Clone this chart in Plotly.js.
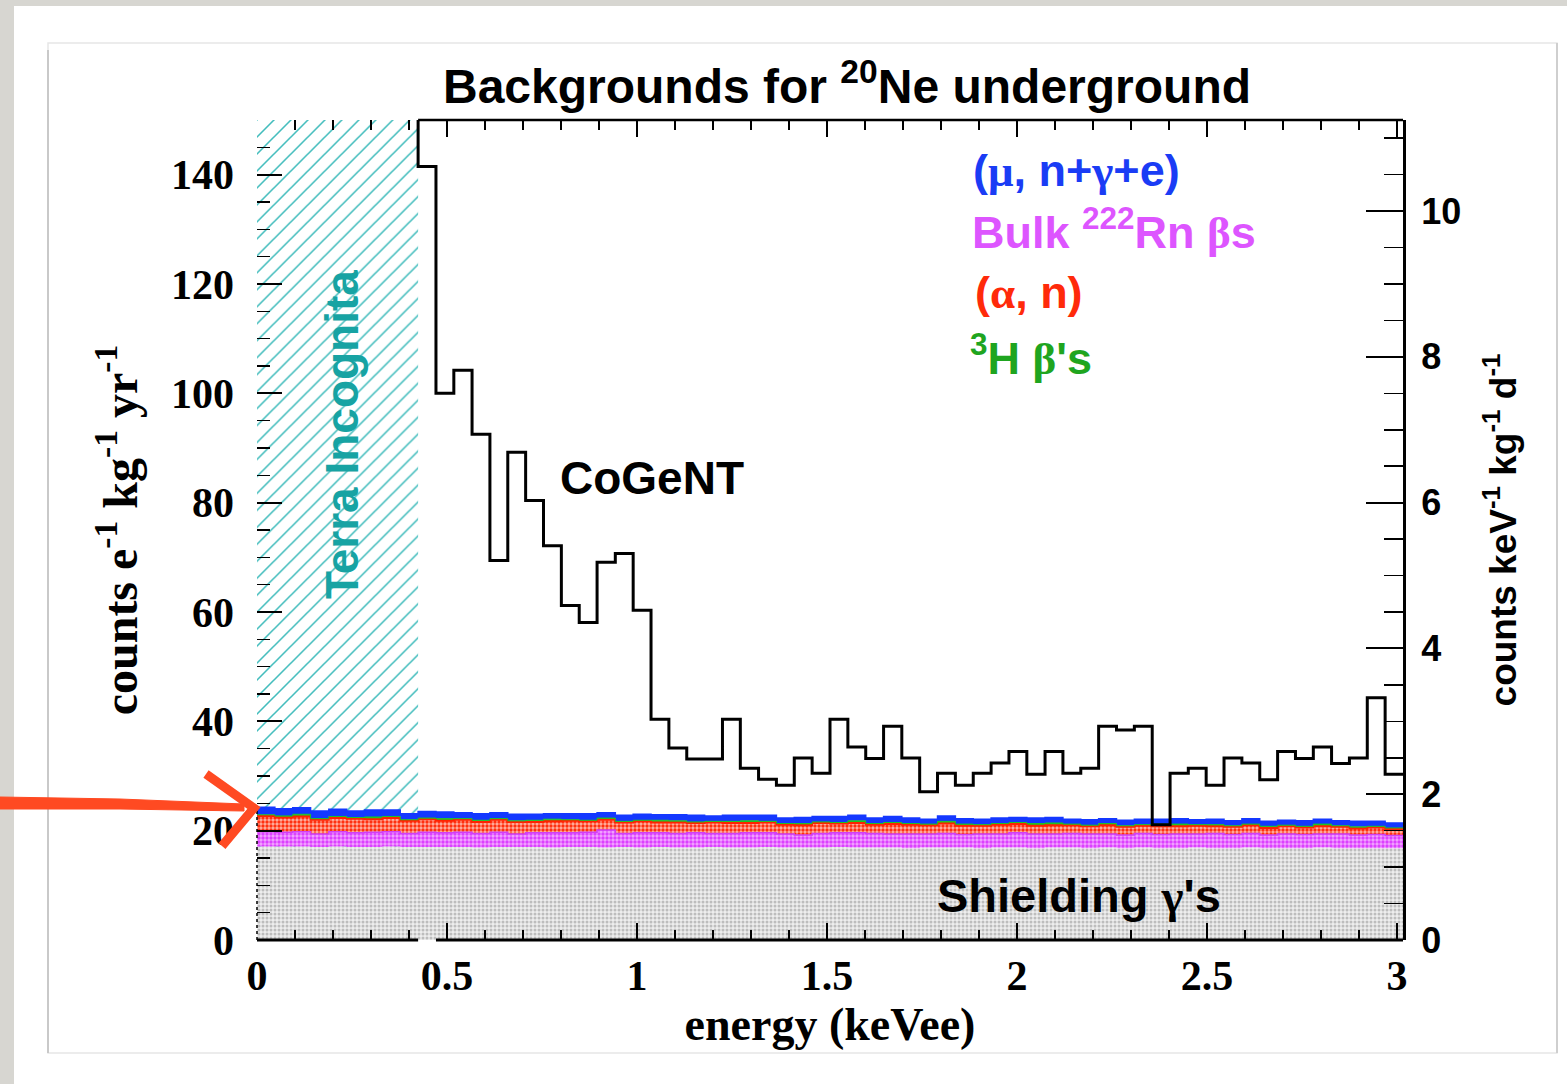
<!DOCTYPE html>
<html>
<head>
<meta charset="utf-8">
<script src="https://cdn.plot.ly/plotly-3.0.1.min.js"></script>
<style>html,body{margin:0;padding:0;background:#d7d6d1;}#chart{width:1567px;height:1084px;}</style>
</head>
<body>
<div id="chart"></div>
<script>
// ---------------- data ----------------
// energy bin edges (keVee)
const binEdges = [0.000,0.047,0.094,0.141,0.189,0.236,0.283,0.330,0.377,0.424,
  0.471,0.518,0.566,0.613,0.660,0.707,0.754,0.801,0.848,0.895,
  0.943,0.990,1.037,1.084,1.131,1.178,1.225,1.272,1.320,1.367,
  1.414,1.461,1.508,1.555,1.602,1.649,1.697,1.744,1.791,1.838,
  1.885,1.932,1.979,2.026,2.074,2.121,2.168,2.215,2.262,2.309,
  2.356,2.403,2.451,2.498,2.545,2.592,2.639,2.686,2.733,2.780,
  2.828,2.875,2.922,2.969,3.016];

// CoGeNT spectrum, bins starting at binEdges[9] (counts e^-1 kg^-1 yr^-1)
const cogentStartBin = 9;
const cogentBelowThreshold = 170; // off-scale value just below the first bin
const cogentCounts = [141.5,100.0,104.2,92.5,69.4,89.2,80.4,72.1,61.2,58.1,
  69.1,70.7,60.3,40.4,35.1,33.1,33.1,40.4,31.4,29.4,
  28.3,33.3,30.5,40.4,35.3,33.2,39.1,33.3,27.1,30.5,
  28.3,30.5,32.4,34.5,30.3,34.5,30.5,31.4,39.1,38.4,
  39.1,21.1,30.5,31.4,28.3,33.3,32.4,29.3,34.5,33.2,
  35.3,32.3,33.3,44.3,30.3];

// stacked backgrounds (per bin, counts e^-1 kg^-1 yr^-1)
const shieldingGammas = [17.1,17.1,17.1,17.0,17.1,17.0,17.0,17.1,17.0,17.0,
  17.0,17.0,16.9,17.0,17.0,17.0,16.9,17.0,17.0,16.9,
  17.0,16.9,17.0,16.9,16.9,17.0,16.9,16.9,17.0,16.9,
  16.9,16.9,17.0,16.9,16.9,16.9,16.8,16.9,16.9,16.9,
  16.8,16.9,16.9,16.8,16.9,16.9,16.8,16.9,16.8,16.9,
  16.8,16.8,16.9,16.8,16.8,16.9,16.8,16.8,16.8,16.9,
  16.8,16.8,16.8,16.8];
const bulkRn222 = [2.7,2.6,2.7,2.4,2.7,2.6,2.7,2.7,2.5,2.7,
  2.6,2.7,2.6,2.7,2.4,2.6,2.7,2.6,2.7,3.2,
  2.5,2.7,2.6,2.6,2.7,2.5,2.6,2.7,2.6,2.5,
  2.3,2.6,2.6,2.7,2.6,2.5,2.6,2.5,2.6,2.4,
  2.6,2.5,2.7,2.6,2.5,2.6,2.6,2.5,2.4,2.6,
  2.5,2.6,2.5,2.7,2.5,2.6,2.4,2.6,2.5,2.5,
  2.6,2.4,2.5,2.3];
const alphaN = [2.9,2.7,2.8,2.6,2.5,2.6,2.4,2.5,2.3,2.4,
  2.2,2.3,2.1,2.3,2.2,2.0,2.1,2.2,2.0,1.9,
  2.0,2.1,1.9,2.0,1.8,2.0,1.9,1.8,1.9,1.7,
  1.8,1.9,1.7,1.8,1.6,1.8,1.7,1.6,1.8,1.6,
  1.5,1.7,1.6,1.5,1.6,1.5,1.4,1.6,1.5,1.4,
  1.5,1.4,1.5,1.3,1.4,1.5,1.3,1.4,1.3,1.4,
  1.3,1.2,1.3,1.2];
const tritiumBeta = [0.2,0.3,0.4,0.2,0.3,0.2,0.4,0.3,0.2,0.2,
  0.4,0.2,0.3,0.2,0.2,0.3,0.4,0.2,0.2,0.3,
  0.2,0.2,0.4,0.3,0.2,0.2,0.3,0.4,0.2,0.2,
  0.3,0.2,0.2,0.4,0.2,0.3,0.2,0.2,0.4,0.3,
  0.2,0.2,0.3,0.4,0.4,0.2,0.2,0.3,0.2,0.2,
  0.4,0.4,0.2,0.3,0.2,0.2,0.3,0.2,0.2,0.4,
  0.2,0.3,0.2,0.2];
const muonInduced = [1.4,1.3,1.2,1.4,1.3,1.2,1.3,1.2,1.1,1.2,
  1.2,1.1,1.2,1.1,1.2,1.1,1.0,1.1,1.2,1.0,
  1.1,1.1,1.0,1.1,1.2,1.0,1.1,1.0,1.1,1.0,
  1.1,1.0,1.1,1.0,1.0,1.1,1.0,0.9,1.0,1.0,
  1.0,1.0,0.9,1.0,1.0,0.9,1.0,0.9,1.0,1.0,
  0.9,1.0,0.9,1.0,0.9,1.0,0.9,0.9,1.0,0.9,
  0.9,1.0,0.9,0.9];

// axis ranges (left: counts e^-1 kg^-1 yr^-1, right: counts keV^-1 kg^-1 d^-1)
const xRange = [0, 3.016];
const yLeftRange = [0, 150];
const yRightRange = [0, 11.25];
const xTickLabels = ['0','0.5','1','1.5','2','2.5','3'];
const xTickVals = [0,0.5,1,1.5,2,2.5,3];

// ---------------- build ----------------
const L=257, R=1403, T=120, B=940, W=R-L, H=B-T;
const px = x => (x-L)/W, py = y => (B-y)/H;

function cum(arrs){ const out=[]; let run=new Array(arrs[0].length).fill(0);
  arrs.forEach(a=>{ run=run.map((v,i)=>v+a[i]); out.push(run.slice()); }); return out; }
const comps = [shieldingGammas, bulkRn222, alphaN, tritiumBeta, muonInduced];
const cums = cum(comps);
const stepY = a => a.concat([a[a.length-1]]);

const SANS = 'Liberation Sans, Arial, sans-serif';
const SERIF = 'Liberation Serif, Times New Roman, serif';
const terraEnd = binEdges[cogentStartBin];

const traces = [];
// Terra Incognita hatched region
traces.push({x:[0,terraEnd,terraEnd,0,0], y:[yLeftRange[0],yLeftRange[0],yLeftRange[1],yLeftRange[1],yLeftRange[0]],
  type:'scatter', mode:'lines', fill:'toself', line:{width:0}, fillcolor:'rgba(255,255,255,1)',
  fillpattern:{shape:'/', fgcolor:'#40bcbc', bgcolor:'#ffffff', size:12, solidity:0.13},
  hoverinfo:'skip', showlegend:false});

const styles = [
  {line:'#cfcfcf', pat:{shape:'.', fgcolor:'#bdbdbd', bgcolor:'#eeeeee', size:4, solidity:0.45}, fill:'tozeroy', lw:0},
  {line:'#d040f5', pat:{shape:'.', fgcolor:'#dc40ff', bgcolor:'#f3a8ff', size:4, solidity:0.55}, fill:'tonexty', lw:1.5},
  {line:'#ff2200', pat:{shape:'.', fgcolor:'#ff3010', bgcolor:'#ffb4a4', size:4, solidity:0.55}, fill:'tonexty', lw:2},
  {line:'#1fc41f', pat:null, fc:'#1fc41f', fill:'tonexty', lw:1},
  {line:'#1438ff', pat:null, fc:'#1438ff', fill:'tonexty', lw:1.5}
];
cums.forEach((c,i)=>{
  const s=styles[i];
  const t={x:binEdges, y:stepY(c), type:'scatter', mode:'lines', line:{shape:'hv', color:s.line, width:s.lw},
    fill:s.fill, hoverinfo:'skip', showlegend:false};
  if(s.pat){ t.fillcolor=s.pat.bgcolor; t.fillpattern=s.pat; } else { t.fillcolor=s.fc; }
  traces.push(t);
});
// CoGeNT histogram
traces.push({x:binEdges.slice(cogentStartBin), y:[cogentBelowThreshold].concat(cogentCounts),
  type:'scatter', mode:'lines', line:{shape:'vh', color:'#000', width:3}, hoverinfo:'skip', showlegend:false, cliponaxis:true});
// right-axis carrier
traces.push({x:[], y:[], yaxis:'y2', type:'scatter', mode:'lines', showlegend:false});

const greek = g => `<span style="font-family:Liberation Serif">${g}</span>`;
const ann = (text, x, y, color, size, extra) => Object.assign({text, xref:'paper', yref:'paper', x:px(x), y:py(y),
  xanchor:'left', yanchor:'middle', showarrow:false, font:{family:SANS, size, color, weight:'bold'}}, extra||{});

const annotations = [
  ann('CoGeNT', 558, 478, '#000', 46),
  ann(`(${greek('μ')}, n+${greek('γ')}+e)`, 971, 170, '#1a3cf5', 45),
  ann(`Bulk <sup>222</sup>Rn ${greek('β')}s`, 970, 229, '#dd55ff', 45),
  ann(`(${greek('α')}, n)`, 973, 292, '#ff2a0a', 45),
  ann(`<sup>3</sup>H ${greek('β')}'s`, 968, 355, '#1fa51f', 45),
  ann(`Shielding ${greek('γ')}'s`, 935, 895, '#000', 47),
  ann('Terra Incognita', 342, 435, '#17a3a3', 46, {xanchor:'center', textangle:-90})
];

// hand-drawn style pointer arrow (decoration, pixel positions)
const arrowColor = '#ff4a22';
const shapes = [
  // outer white page and inner card frame
  {type:'rect', xref:'paper', yref:'paper', x0:px(14), x1:px(1567), y0:py(1084), y1:py(6), fillcolor:'#ffffff', line:{width:0}, layer:'below'},
  {type:'rect', xref:'paper', yref:'paper', x0:px(48), x1:px(1557), y0:py(1053), y1:py(43), fillcolor:'rgba(0,0,0,0)', line:{color:'#e6e6e6', width:1.5}, layer:'below'},
  {type:'line', xref:'paper', yref:'paper', x0:px(48), x1:px(48), y0:py(1053), y1:py(50), line:{color:'#c9c9c9', width:2}, layer:'below'},
  {type:'line', xref:'paper', yref:'paper', x0:px(1557), x1:px(1557), y0:py(1053), y1:py(43), line:{color:'#cfcfcf', width:2}, layer:'below'},
  // frame lines
  {type:'line', xref:'x', yref:'paper', x0:xRange[0], x1:terraEnd, y0:0, y1:0, line:{color:'#000', width:3}},
  {type:'line', xref:'x', yref:'paper', x0:binEdges[cogentStartBin+1], x1:xRange[1], y0:0, y1:0, line:{color:'#000', width:3}},
  {type:'line', xref:'x', yref:'paper', x0:terraEnd, x1:xRange[1], y0:1, y1:1, line:{color:'#000', width:2.5}},
  {type:'line', xref:'paper', yref:'y', x0:0, x1:0, y0:0, y1:cums[4][0], line:{color:'#000', width:1.5, dash:'dot'}},
  // arrow shaft (tapered with two strokes) and open head
  {type:'path', xref:'paper', yref:'paper',
   path:`M ${px(0)} ${py(797)} L ${px(120)} ${py(799)} L ${px(244)} ${py(804)} L ${px(244)} ${py(811)} L ${px(120)} ${py(809)} L ${px(0)} ${py(809)} Z`,
   fillcolor:arrowColor, line:{color:arrowColor, width:1}},
  {type:'path', xref:'paper', yref:'paper',
   path:`M ${px(206)} ${py(774)} L ${px(254)} ${py(808)} L ${px(222)} ${py(846)}`,
   line:{color:arrowColor, width:9}}
];

const layout = {
  width:1567, height:1084, autosize:false,
  margin:{l:L, r:1567-R, t:T, b:1084-B, pad:0},
  paper_bgcolor:'#d7d6d1', plot_bgcolor:'#ffffff',
  showlegend:false,
  title:{text:'Backgrounds for <sup>20</sup>Ne underground', x:847/1567, xref:'container', xanchor:'center',
    y:1-86/1084, yref:'container', yanchor:'middle', font:{family:SANS, size:48, color:'#000', weight:'bold'}},
  xaxis:{range:xRange, tickvals:xTickVals, ticktext:xTickLabels, ticks:'inside', ticklen:17, tickwidth:2, tickcolor:'#000',
    minor:{dtick:0.1, tick0:0, ticks:'inside', ticklen:10, tickwidth:1.5, tickcolor:'#000'},
    mirror:'ticks', showline:false, showgrid:false, zeroline:false, ticklabelstandoff:7,
    tickfont:{family:SERIF, size:42, color:'#000', weight:'bold'},
    title:{text:'energy (keVee)', standoff:8, font:{family:SERIF, size:46, color:'#000', weight:'bold'}}},
  yaxis:{range:yLeftRange, dtick:20, tick0:0, ticks:'inside', ticklen:25, tickwidth:2, tickcolor:'#000',
    minor:{dtick:5, tick0:0, ticks:'inside', ticklen:13, tickwidth:1.5, tickcolor:'#000'},
    showline:false, showgrid:false, zeroline:false, ticklabelstandoff:22,
    tickfont:{family:SERIF, size:42, color:'#000', weight:'bold'},
    title:{text:'counts e<sup>-1</sup> kg<sup>-1</sup> yr<sup>-1</sup>', standoff:18, font:{family:SERIF, size:48, color:'#000', weight:'bold'}}},
  yaxis2:{range:yRightRange, overlaying:'y', side:'right', dtick:2, tick0:0, ticks:'inside', ticklen:37, tickwidth:2, tickcolor:'#000',
    minor:{dtick:0.5, tick0:0, ticks:'inside', ticklen:19, tickwidth:1.5, tickcolor:'#000'},
    showline:true, linewidth:3, linecolor:'#000', showgrid:false, zeroline:false, ticklabelstandoff:8,
    tickfont:{family:SANS, size:36, color:'#000', weight:'bold'},
    title:{text:'counts keV<sup>-1</sup> kg<sup>-1</sup> d<sup>-1</sup>', standoff:30, font:{family:SANS, size:37, color:'#000', weight:'bold'}}},
  annotations, shapes
};

Plotly.newPlot('chart', traces, layout, {staticPlot:true, displayModeBar:false});
</script>
</body>
</html>
